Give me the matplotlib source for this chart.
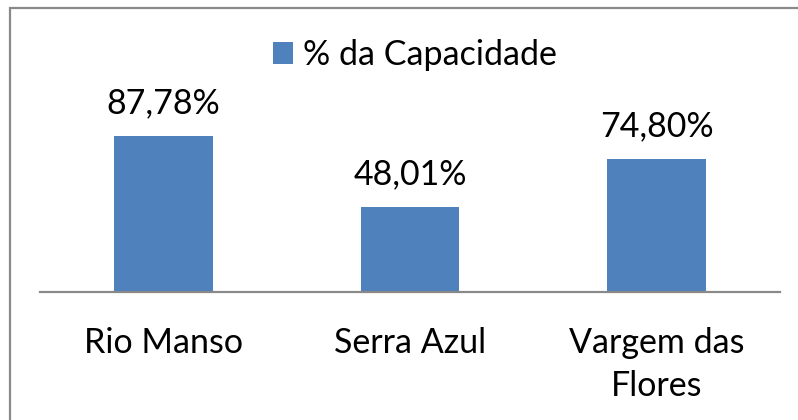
import numpy as np
import matplotlib.pyplot as plt
from matplotlib.patches import Rectangle

categories = ["Rio Manso", "Serra Azul", "Vargem das\nFlores"]
values = [87.78, 48.01, 74.80]
value_labels = ["87,78%", "48,01%", "74,80%"]
series_name = "% da Capacidade"

W, H = 798, 420
bar_color = "#4F81BD"
grey = "#898989"
fs = 24.5

plt.rcParams['font.family'] = ['Lato', 'DejaVu Sans']

fig = plt.figure(figsize=(W / 100, H / 100), dpi=100)

# chart border (right and bottom edges fall outside the image)
fig.patches.append(Rectangle((9.5 / W, -0.1), 1.2, 1.1 - 8.5 / H,
                             transform=fig.transFigure, fill=False,
                             edgecolor=grey, linewidth=1.6))

# plot area: x from 40 to 780 px, baseline at 292 px, 100% at ~114 px
left, right = 40 / W, 780 / W
bottom, top = 1 - 292 / H, 1 - 114.5 / H
ax = fig.add_axes([left, bottom, right - left, top - bottom])

x = np.arange(len(categories))
bars = ax.bar(x, values, width=0.4, color=bar_color, label=series_name, zorder=2)
ax.set_xlim(-0.5, len(categories) - 0.5)
ax.set_ylim(0, 100)

for rect, lab in zip(bars, value_labels):
    ax.annotate(lab, (rect.get_x() + rect.get_width() / 2, rect.get_height()),
                xytext=(0, 12), textcoords="offset points",
                ha="center", va="bottom", fontsize=fs)

for s in ["top", "left", "right"]:
    ax.spines[s].set_visible(False)
ax.spines["bottom"].set_color(grey)
ax.spines["bottom"].set_linewidth(1.6)
ax.set_yticks([])
ax.set_xticks(x)
ax.set_xticklabels(categories, fontsize=fs, linespacing=1.45)
ax.tick_params(axis="x", length=0, pad=25)

fig.legend(handles=[bars], labels=[series_name], loc="center",
           bbox_to_anchor=(415 / W, 1 - 55 / H), frameon=False,
           fontsize=fs, handlelength=0.6, handleheight=0.6,
           handletextpad=0.3)

fig.savefig("out.png", dpi=100)
